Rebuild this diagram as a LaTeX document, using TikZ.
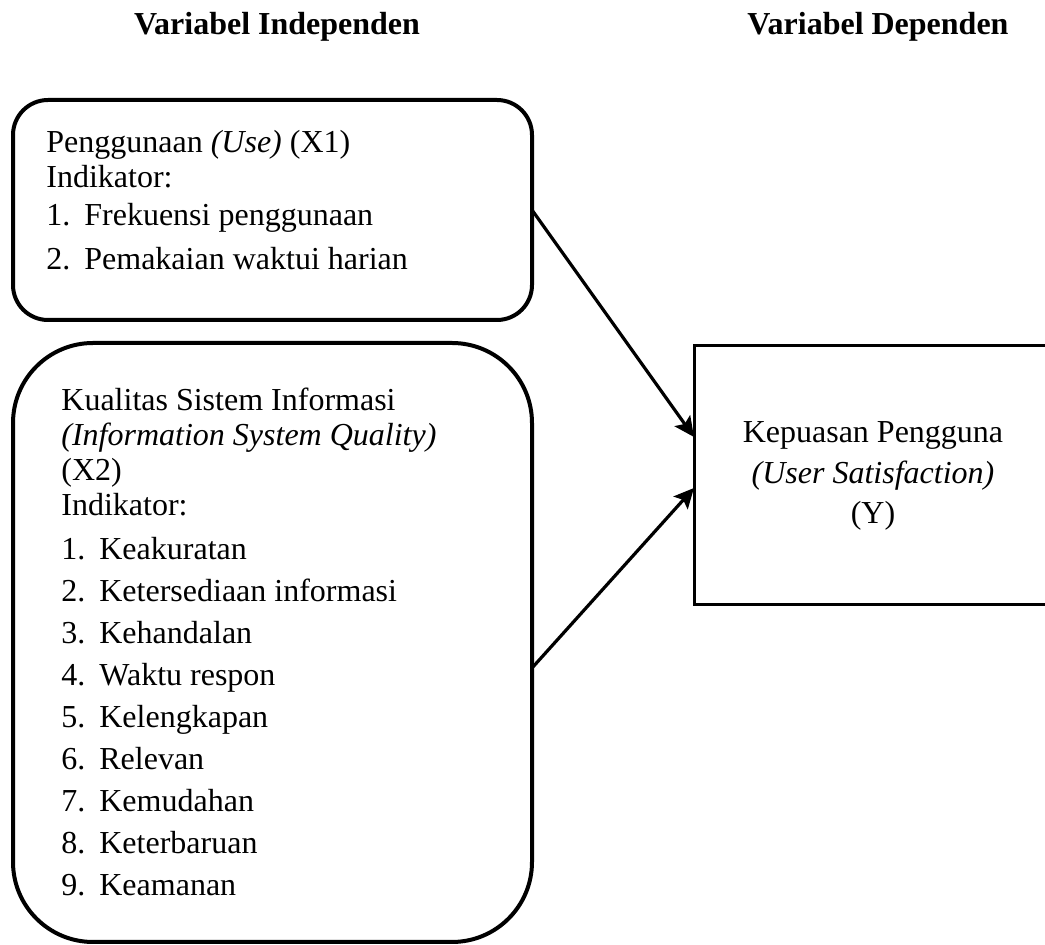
\documentclass[tikz,border=0pt]{standalone}
\usepackage{fontspec}
\setmainfont{Liberation Serif}
\usetikzlibrary{arrows.meta, positioning}
\newcommand{\butir}[2]{\makebox[19pt][l]{#1.}#2}

\begin{document}
\begin{tikzpicture}[
    x=0.5pt, y=-0.5pt,
    every node/.style={font=\fontsize{16pt}{17.5pt}\selectfont},
    heading/.style={font=\fontsize{16pt}{17.5pt}\selectfont\bfseries, anchor=base},
    varbox/.style={draw, line width=2pt, inner sep=0pt, outer sep=0pt, minimum width=259.5pt},
    boxtext/.style={anchor=north west, align=left, inner sep=0pt},
    arrow/.style={-{Stealth[length=10pt, width=9.5pt, inset=2pt]}, line width=1.6pt}
]
\useasboundingbox (0,0) rectangle (1045,945);
\clip (0,0) rectangle (1045,945);

% Headings
\node[heading] (indep) at (277,35) {Variabel Independen};
\node[heading] (dep) at (878,35) {Variabel Dependen};

% Independent variables
\node[varbox, rounded corners=17.5pt, minimum height=110pt] (use) at (272.5,210) {};
\node[boxtext] (usetext) at (46,130) {Penggunaan \textit{(Use)} (X1)\\
    Indikator:\\[1.5pt]
    \butir{1}{Frekuensi penggunaan}\\[4.5pt]
    \butir{2}{Pemakaian waktui harian}};

\node[varbox, rounded corners=40pt, minimum height=299.5pt] (quality) at (272.5,642.5) {};
\node[boxtext] (qualitytext) at (61,388) {Kualitas Sistem Informasi\\
    \textit{(Information System Quality)}\\
    (X2)\\
    Indikator:\\[4.5pt]
    \butir{1}{Keakuratan}\\[3.5pt]
    \butir{2}{Ketersediaan informasi}\\[3.5pt]
    \butir{3}{Kehandalan}\\[3.5pt]
    \butir{4}{Waktu respon}\\[3.5pt]
    \butir{5}{Kelengkapan}\\[3.5pt]
    \butir{6}{Relevan}\\[3.5pt]
    \butir{7}{Kemudahan}\\[3.5pt]
    \butir{8}{Keterbaruan}\\[3.5pt]
    \butir{9}{Keamanan}};

% Dependent variable
\node[draw, line width=1.5pt, inner sep=0pt, outer sep=0pt, minimum width=179pt, minimum height=129.5pt,
    align=center] (satisfaction) at (873,475.5) {Kepuasan Pengguna\\[3pt]
    \textit{(User Satisfaction)}\\[2.5pt]
    (Y)};

% Arrows
\draw[arrow] (use.east) -- ([yshift=19.25pt]satisfaction.west);
\draw[arrow] ([yshift=-12.75pt]quality.east) -- ([yshift=-6.25pt]satisfaction.west);

\end{tikzpicture}
\end{document}
